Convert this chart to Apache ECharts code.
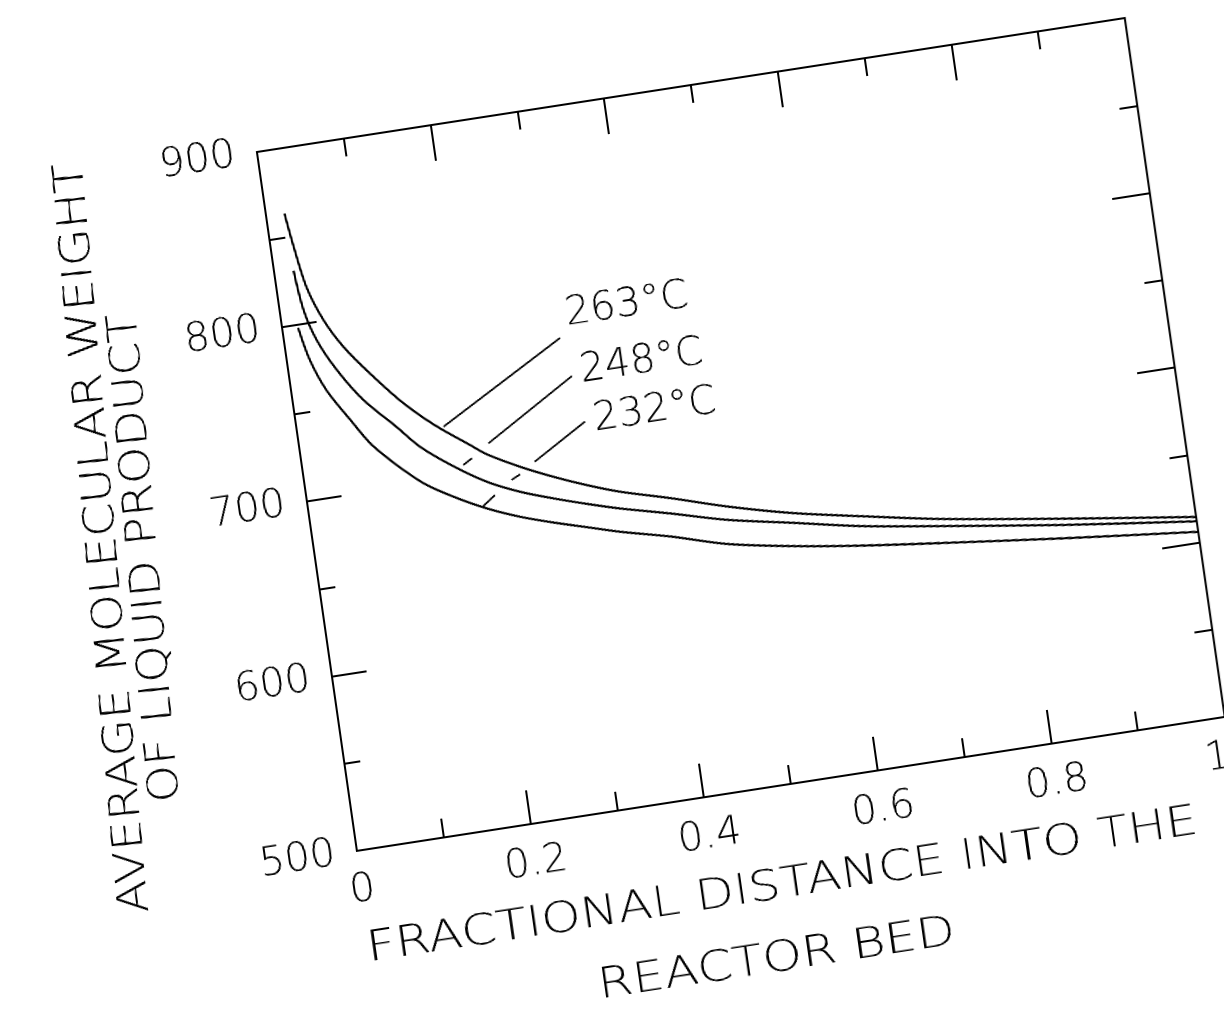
<!DOCTYPE html>
<html>
<head>
<meta charset="utf-8">
<script src="https://cdn.jsdelivr.net/npm/echarts@6/dist/echarts.min.js"></script>
<style>
  html, body { margin: 0; padding: 0; background: #fff; overflow: hidden; }
  body { width: 1224px; height: 1015px; position: relative; }
  /* the scanned figure is tilted, so the whole chart is drawn straight and then tilted */
  #chart {
    position: absolute; left: 0; top: 0;
    width: 1200px; height: 1000px;
    transform-origin: 0 0;
    transform: matrix(0.98861, -0.15262, 0.14164, 0.99008, 1.35, 130.75);
  }
</style>
</head>
<body>
<div id="chart"></div>
<script>
// curves: fractional distance / average molecular weight
let x263 = [0.021, 0.026, 0.034, 0.048, 0.066, 0.092, 0.124, 0.158, 0.193, 0.210, 0.246, 0.282, 0.318, 0.354, 0.410, 0.472, 0.546, 0.621, 0.711, 0.850, 1.0];
let y263 = [863, 844, 820, 800, 783.5, 766, 747, 731, 717.5, 711, 701, 692.5, 685, 678.5, 670.5, 661, 651.5, 644, 635.5, 625, 614.5];

let x248 = [0.022, 0.027, 0.037, 0.055, 0.080, 0.113, 0.136, 0.171, 0.206, 0.242, 0.278, 0.315, 0.352, 0.407, 0.470, 0.545, 0.619, 0.710, 0.849, 1.0];
let y248 = [830.5, 807.5, 789.5, 771, 752, 734, 721, 707, 695.5, 687, 680.5, 674.5, 669, 662, 653.5, 646, 638.5, 631.5, 621.5, 612];

let x232 = [0.018, 0.026, 0.040, 0.062, 0.084, 0.131, 0.166, 0.202, 0.238, 0.274, 0.311, 0.348, 0.404, 0.466, 0.541, 0.616, 0.707, 0.847, 1.0];
let y232 = [798, 779, 760.5, 742, 725, 701.5, 690, 680.5, 673, 667, 661.5, 656, 649, 640, 633, 627.5, 622, 614, 606];

// leader lines for the temperature labels (solid part, then the dashes between curves)
let names = ['263°C', '248°C', '232°C'];
let leaders = [
    [[0.3116, 769.7], [0.166, 730.1]],
    [[0.319, 747.4], [0.214, 716.9]],
    [[0.3262, 720.7], [0.263, 702.6]]
];
let dashes = [
    [[0.193, 710.0], [0.182, 706.9]],
    [[0.2445, 696.8], [0.234, 694.4]],
    [[0.213, 687.4], [0.198, 682.2]]
];
let labelShift = [-22, -3, 0];

let xTitle = ['FRACTIONAL DISTANCE INTO THE', 'REACTOR BED'];
let yTitle = ['AVERAGE MOLECULAR WEIGHT', 'OF LIQUID PRODUCT'];

let font = 'DejaVu Sans';
let ink = '#000';

function zip(xs, ys) {
    return xs.map((x, i) => [x, ys[i]]);
}

// drawn at 3x so the tilted bitmap stays clean
let myChart = echarts.init(document.getElementById('chart'), null, { renderer: 'canvas', devicePixelRatio: 3 });

let axisLine = { show: true, onZero: false, lineStyle: { color: ink, width: 2 } };
let tickText = { color: ink, fontFamily: font, fontWeight: 200, fontSize: 40 };

let series = [];
[[x263, y263], [x248, y248], [x232, y232]].forEach((c, i) => {
    series.push({
        name: names[i],
        type: 'line',
        data: zip(c[0], c[1]),
        smooth: 0.3,
        showSymbol: false,
        lineStyle: { color: ink, width: 2.2 }
    });
});
leaders.forEach((l, i) => {
    series.push({
        type: 'line',
        data: [
            {
                value: l[0],
                label: Object.assign({
                    show: true,
                    formatter: names[i],
                    position: 'right',
                    distance: 8,
                    offset: [0, labelShift[i]]
                }, tickText)
            },
            l[1]
        ],
        showSymbol: true,
        symbol: 'circle',
        symbolSize: 1,
        itemStyle: { color: 'rgba(0,0,0,0)' },
        lineStyle: { color: ink, width: 1.8 }
    });
});
dashes.forEach(d => {
    series.push({
        type: 'line',
        data: d,
        showSymbol: false,
        lineStyle: { color: ink, width: 1.8 }
    });
});

function titleText(x, y, rot, sx, text) {
    return {
        type: 'text', x: x, y: y, rotation: rot, scaleX: sx,
        style: { text: text, fill: ink, font: '200 42px "DejaVu Sans"', align: 'center', verticalAlign: 'middle' }
    };
}

let option = {
    animation: false,
    backgroundColor: '#fff',
    grid: { left: 250, top: 60, width: 878, height: 706 },
    xAxis: [{
        type: 'value',
        min: 0,
        max: 1,
        interval: 0.2,
        position: 'bottom',
        axisLine: axisLine,
        axisTick: { inside: true, length: 34, lineStyle: { color: ink, width: 2 } },
        minorTick: { show: true, splitNumber: 2, length: 19, lineStyle: { color: ink, width: 2 } },
        splitLine: { show: false },
        axisLabel: Object.assign({ margin: 20, alignMaxLabel: 'right' }, tickText)
    }, {
        type: 'value',
        min: 0,
        max: 1,
        interval: 0.2,
        position: 'top',
        axisLine: axisLine,
        axisTick: { inside: true, length: 36, lineStyle: { color: ink, width: 2 } },
        minorTick: { show: true, splitNumber: 2, length: 18, lineStyle: { color: ink, width: 2 } },
        splitLine: { show: false },
        axisLabel: { show: false }
    }],
    yAxis: [{
        type: 'value',
        min: 500,
        max: 900,
        interval: 100,
        position: 'left',
        axisLine: axisLine,
        axisTick: { inside: true, length: 35, lineStyle: { color: ink, width: 2 } },
        minorTick: { show: true, splitNumber: 2, length: 16, lineStyle: { color: ink, width: 2 } },
        splitLine: { show: false },
        axisLabel: Object.assign({ margin: 22 }, tickText)
    }, {
        type: 'value',
        min: 500,
        max: 900,
        interval: 100,
        position: 'right',
        axisLine: axisLine,
        axisTick: { inside: true, length: 38, lineStyle: { color: ink, width: 2 } },
        minorTick: { show: true, splitNumber: 2, length: 18, lineStyle: { color: ink, width: 2 } },
        splitLine: { show: false },
        axisLabel: { show: false }
    }],
    graphic: [
        titleText(44, 418, 1.517, 1.15, yTitle[0]),
        titleText(83, 444, 1.517, 1.13, yTitle[1]),
        titleText(666, 866, 0, 1.2, xTitle[0]),
        titleText(650, 938, 0, 1.2, xTitle[1])
    ],
    series: series
};
myChart.setOption(option);
</script>
</body>
</html>
